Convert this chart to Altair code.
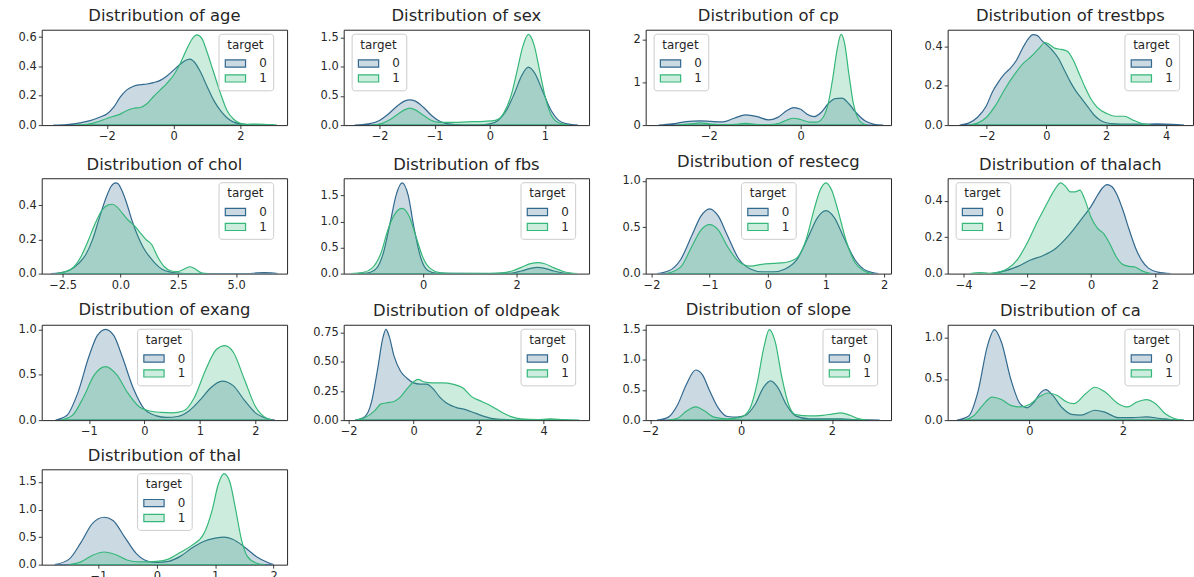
import altair as alt
import pandas as pd

# ---------------- data (standardised feature, KDE density) ----------------
AGE_X0 = [-3.6, -3.2, -2.8, -2.5, -2.2, -2.0, -1.8, -1.6, -1.4, -1.2, -1.0, -0.8, -0.6, -0.4, -0.2, 0.0, 0.2, 0.4, 0.5, 0.6, 0.8, 1.0, 1.2, 1.4, 1.6, 1.8, 2.0, 2.3, 2.7, 3.0]
AGE_D0 = [0.0, 0.004, 0.015, 0.03, 0.055, 0.075, 0.12, 0.19, 0.24, 0.265, 0.275, 0.28, 0.29, 0.305, 0.335, 0.375, 0.415, 0.445, 0.45, 0.435, 0.365, 0.265, 0.17, 0.1, 0.05, 0.02, 0.008, 0.002, 0.001, 0.0]
AGE_X1 = [-3.0, -2.6, -2.3, -2.0, -1.8, -1.6, -1.4, -1.2, -1.0, -0.8, -0.6, -0.4, -0.2, 0.0, 0.2, 0.4, 0.55, 0.7, 0.85, 1.0, 1.2, 1.4, 1.6, 1.8, 2.0, 2.2, 2.5, 2.8, 3.1]
AGE_D1 = [0.0, 0.005, 0.02, 0.045, 0.06, 0.075, 0.1, 0.115, 0.12, 0.145, 0.195, 0.24, 0.285, 0.34, 0.42, 0.52, 0.585, 0.615, 0.59, 0.5, 0.36, 0.22, 0.1, 0.04, 0.012, 0.005, 0.007, 0.004, 0.0]

SEX_X0 = [-2.45, -2.2, -2.0, -1.85, -1.7, -1.55, -1.45, -1.35, -1.2, -1.05, -0.9, -0.75, -0.5, -0.2, 0.0, 0.15, 0.3, 0.45, 0.58, 0.7, 0.82, 0.95, 1.1, 1.25, 1.4, 1.6]
SEX_D0 = [0.0, 0.02, 0.08, 0.18, 0.31, 0.41, 0.43, 0.41, 0.3, 0.16, 0.06, 0.02, 0.005, 0.005, 0.02, 0.08, 0.25, 0.55, 0.85, 0.99, 0.88, 0.6, 0.27, 0.08, 0.02, 0.0]
SEX_X1 = [-2.15, -1.95, -1.8, -1.65, -1.55, -1.45, -1.35, -1.25, -1.1, -0.95, -0.7, -0.4, -0.1, 0.1, 0.25, 0.4, 0.5, 0.6, 0.7, 0.8, 0.9, 1.0, 1.1, 1.25, 1.45]
SEX_D1 = [0.0, 0.03, 0.1, 0.2, 0.26, 0.29, 0.26, 0.2, 0.1, 0.05, 0.045, 0.055, 0.065, 0.08, 0.2, 0.55, 0.95, 1.35, 1.55, 1.38, 0.95, 0.5, 0.2, 0.04, 0.0]

CP_X0 = [-3.1, -2.8, -2.5, -2.2, -1.95, -1.7, -1.45, -1.2, -0.95, -0.7, -0.5, -0.3, -0.15, 0.0, 0.15, 0.3, 0.45, 0.6, 0.75, 0.9, 1.05, 1.2, 1.4, 1.6, 1.8]
CP_D0 = [0.0, 0.03, 0.08, 0.1, 0.085, 0.075, 0.16, 0.24, 0.2, 0.12, 0.18, 0.34, 0.41, 0.37, 0.25, 0.2, 0.3, 0.5, 0.62, 0.63, 0.5, 0.3, 0.1, 0.02, 0.0]
CP_X1 = [-2.7, -2.4, -2.2, -2.0, -1.7, -1.4, -1.2, -1.0, -0.7, -0.45, -0.3, -0.15, 0.0, 0.2, 0.35, 0.5, 0.6, 0.7, 0.8, 0.88, 0.96, 1.05, 1.15, 1.3, 1.45]
CP_D1 = [0.0, 0.03, 0.05, 0.03, 0.01, 0.02, 0.04, 0.02, 0.01, 0.05, 0.12, 0.16, 0.13, 0.07, 0.07, 0.2, 0.5, 1.1, 1.8, 2.12, 1.9, 1.2, 0.5, 0.08, 0.0]

TRESTBPS_X0 = [-2.9, -2.6, -2.3, -2.0, -1.8, -1.6, -1.4, -1.2, -1.0, -0.8, -0.6, -0.45, -0.3, -0.15, 0.0, 0.2, 0.4, 0.6, 0.8, 1.0, 1.2, 1.4, 1.6, 1.8, 2.0, 2.3, 2.7, 3.2, 3.7, 4.2, 4.6]
TRESTBPS_D0 = [0.0, 0.01, 0.04, 0.1, 0.17, 0.22, 0.26, 0.29, 0.33, 0.39, 0.44, 0.46, 0.455, 0.43, 0.41, 0.38, 0.34, 0.28, 0.22, 0.17, 0.13, 0.09, 0.05, 0.025, 0.012, 0.006, 0.005, 0.005, 0.006, 0.004, 0.0]
TRESTBPS_X1 = [-2.6, -2.3, -2.0, -1.7, -1.4, -1.1, -0.8, -0.5, -0.25, -0.05, 0.1, 0.3, 0.5, 0.7, 0.9, 1.1, 1.3, 1.5, 1.7, 2.0, 2.3, 2.6, 2.9, 3.2, 3.5]
TRESTBPS_D1 = [0.0, 0.01, 0.04, 0.1, 0.18, 0.25, 0.31, 0.35, 0.39, 0.42, 0.41, 0.39, 0.385, 0.375, 0.33, 0.26, 0.19, 0.13, 0.09, 0.06, 0.045, 0.045, 0.025, 0.008, 0.0]

CHOL_X0 = [-3.0, -2.6, -2.2, -1.8, -1.5, -1.2, -0.9, -0.6, -0.4, -0.2, -0.1, 0.05, 0.25, 0.5, 0.75, 1.0, 1.25, 1.5, 1.8, 2.2, 2.6, 3.0, 5.5, 5.9, 6.2, 6.5, 6.8]
CHOL_D0 = [0.0, 0.005, 0.02, 0.06, 0.11, 0.2, 0.33, 0.45, 0.51, 0.53, 0.525, 0.49, 0.42, 0.31, 0.22, 0.15, 0.1, 0.06, 0.025, 0.008, 0.002, 0.0, 0.0, 0.004, 0.006, 0.004, 0.0]
CHOL_X1 = [-2.8, -2.4, -2.0, -1.7, -1.4, -1.1, -0.8, -0.55, -0.35, -0.15, 0.1, 0.35, 0.6, 0.85, 1.1, 1.35, 1.6, 1.9, 2.2, 2.5, 2.8, 3.0, 3.2, 3.5, 3.8]
CHOL_D1 = [0.0, 0.01, 0.04, 0.1, 0.19, 0.29, 0.37, 0.4, 0.405, 0.39, 0.35, 0.31, 0.28, 0.24, 0.2, 0.17, 0.1, 0.04, 0.015, 0.012, 0.03, 0.04, 0.03, 0.005, 0.0]

FBS_X0 = [-1.4, -1.2, -1.0, -0.85, -0.7, -0.58, -0.45, -0.32, -0.2, -0.05, 0.1, 0.3, 1.5, 1.9, 2.1, 2.3, 2.45, 2.6, 2.8, 3.0, 3.2]
FBS_D0 = [0.0, 0.01, 0.1, 0.4, 1.0, 1.5, 1.74, 1.5, 0.9, 0.3, 0.06, 0.005, 0.0, 0.01, 0.05, 0.1, 0.12, 0.1, 0.05, 0.01, 0.0]
FBS_X1 = [-1.55, -1.3, -1.1, -0.9, -0.75, -0.6, -0.45, -0.3, -0.15, 0.0, 0.15, 0.35, 0.6, 1.2, 1.6, 1.9, 2.1, 2.3, 2.45, 2.6, 2.8, 3.0, 3.3]
FBS_D1 = [0.0, 0.02, 0.1, 0.4, 0.85, 1.15, 1.25, 1.1, 0.7, 0.3, 0.1, 0.02, 0.005, 0.003, 0.01, 0.05, 0.12, 0.19, 0.21, 0.19, 0.11, 0.04, 0.0]

RESTECG_X0 = [-1.9, -1.7, -1.5, -1.3, -1.15, -1.0, -0.85, -0.7, -0.5, -0.3, -0.1, 0.1, 0.3, 0.5, 0.7, 0.85, 1.0, 1.15, 1.3, 1.5, 1.7, 1.9]
RESTECG_D0 = [0.0, 0.03, 0.15, 0.42, 0.62, 0.7, 0.62, 0.42, 0.16, 0.05, 0.02, 0.02, 0.05, 0.15, 0.4, 0.6, 0.68, 0.6, 0.4, 0.15, 0.03, 0.0]
RESTECG_X1 = [-1.75, -1.5, -1.3, -1.15, -1.0, -0.85, -0.7, -0.5, -0.3, -0.1, 0.1, 0.3, 0.5, 0.65, 0.8, 0.9, 1.0, 1.1, 1.2, 1.35, 1.5, 1.65, 1.8]
RESTECG_D1 = [0.0, 0.07, 0.3, 0.47, 0.53, 0.47, 0.3, 0.13, 0.08, 0.1, 0.11, 0.12, 0.17, 0.35, 0.7, 0.9, 0.98, 0.9, 0.7, 0.35, 0.12, 0.03, 0.0]

THALACH_X0 = [-3.1, -2.7, -2.3, -1.9, -1.5, -1.1, -0.7, -0.3, 0.0, 0.2, 0.35, 0.5, 0.65, 0.8, 1.0, 1.2, 1.4, 1.6, 1.8, 2.1, 2.5]
THALACH_D0 = [0.0, 0.015, 0.04, 0.075, 0.1, 0.14, 0.21, 0.3, 0.37, 0.43, 0.47, 0.49, 0.48, 0.44, 0.35, 0.24, 0.14, 0.07, 0.03, 0.008, 0.0]
THALACH_X1 = [-3.8, -3.5, -3.2, -2.9, -2.6, -2.3, -2.0, -1.7, -1.4, -1.15, -0.95, -0.8, -0.65, -0.5, -0.35, -0.2, 0.0, 0.2, 0.4, 0.6, 0.8, 1.0, 1.2, 1.4, 1.6, 1.9]
THALACH_D1 = [0.0, 0.006, 0.002, 0.008, 0.03, 0.08, 0.17, 0.28, 0.38, 0.46, 0.5, 0.48, 0.45, 0.45, 0.46, 0.41, 0.31, 0.25, 0.22, 0.16, 0.09, 0.05, 0.04, 0.035, 0.015, 0.0]

EXANG_X0 = [-1.6, -1.4, -1.2, -1.0, -0.85, -0.7, -0.55, -0.4, -0.2, 0.0, 0.2, 0.4, 0.6, 0.8, 1.0, 1.2, 1.4, 1.6, 1.8, 2.0, 2.2, 2.35]
EXANG_D0 = [0.0, 0.05, 0.3, 0.7, 0.93, 1.0, 0.93, 0.7, 0.35, 0.12, 0.05, 0.03, 0.04, 0.1, 0.22, 0.36, 0.43, 0.38, 0.22, 0.08, 0.02, 0.0]
EXANG_X1 = [-1.5, -1.3, -1.1, -0.9, -0.7, -0.5, -0.3, -0.1, 0.1, 0.3, 0.5, 0.7, 0.9, 1.1, 1.3, 1.45, 1.6, 1.8, 2.0, 2.2, 2.3]
EXANG_D1 = [0.0, 0.05, 0.25, 0.5, 0.59, 0.5, 0.3, 0.15, 0.1, 0.085, 0.08, 0.1, 0.25, 0.55, 0.78, 0.82, 0.75, 0.45, 0.15, 0.02, 0.0]

OLDPEAK_X0 = [-1.8, -1.5, -1.3, -1.1, -0.95, -0.85, -0.75, -0.6, -0.4, -0.2, 0.0, 0.2, 0.4, 0.6, 0.8, 1.0, 1.3, 1.6, 1.9, 2.2, 2.5, 3.0, 3.5]
OLDPEAK_D0 = [0.0, 0.03, 0.15, 0.45, 0.7, 0.78, 0.72, 0.55, 0.42, 0.36, 0.32, 0.31, 0.31, 0.27, 0.2, 0.15, 0.11, 0.09, 0.06, 0.03, 0.01, 0.003, 0.0]
OLDPEAK_X1 = [-1.8, -1.5, -1.2, -1.0, -0.8, -0.6, -0.4, -0.2, 0.0, 0.15, 0.3, 0.6, 0.9, 1.2, 1.5, 1.8, 2.1, 2.4, 2.7, 3.0, 3.3, 3.8, 4.2, 4.6, 5.1]
OLDPEAK_D1 = [0.0, 0.02, 0.08, 0.14, 0.15, 0.16, 0.2, 0.27, 0.33, 0.35, 0.33, 0.32, 0.32, 0.31, 0.28, 0.2, 0.16, 0.12, 0.07, 0.03, 0.01, 0.005, 0.01, 0.005, 0.0]

SLOPE_X0 = [-1.85, -1.6, -1.4, -1.2, -1.0, -0.85, -0.7, -0.5, -0.3, -0.1, 0.1, 0.3, 0.5, 0.65, 0.8, 1.0, 1.2, 1.5, 1.8, 2.0, 2.2, 2.5, 2.8, 3.05]
SLOPE_D0 = [0.0, 0.05, 0.25, 0.6, 0.83, 0.75, 0.5, 0.2, 0.06, 0.05, 0.08, 0.25, 0.55, 0.65, 0.55, 0.25, 0.07, 0.02, 0.02, 0.02, 0.02, 0.01, 0.003, 0.0]
SLOPE_X1 = [-1.6, -1.4, -1.2, -1.0, -0.8, -0.6, -0.3, 0.0, 0.2, 0.35, 0.5, 0.62, 0.75, 0.9, 1.05, 1.2, 1.5, 1.8, 2.0, 2.2, 2.4, 2.6, 2.8]
SLOPE_D1 = [0.0, 0.03, 0.15, 0.22, 0.15, 0.05, 0.02, 0.05, 0.2, 0.6, 1.2, 1.5, 1.3, 0.7, 0.25, 0.09, 0.07, 0.08, 0.1, 0.12, 0.08, 0.02, 0.0]

CA_X0 = [-1.55, -1.3, -1.1, -0.9, -0.75, -0.6, -0.4, -0.2, -0.05, 0.1, 0.25, 0.35, 0.5, 0.7, 0.9, 1.1, 1.4, 1.6, 1.9, 2.2, 2.5, 2.8, 3.1, 3.3]
CA_D0 = [0.0, 0.05, 0.35, 0.9, 1.1, 0.95, 0.5, 0.2, 0.15, 0.22, 0.34, 0.37, 0.3, 0.15, 0.07, 0.06, 0.12, 0.1, 0.03, 0.03, 0.04, 0.02, 0.003, 0.0]
CA_X1 = [-1.4, -1.2, -1.0, -0.8, -0.6, -0.4, -0.2, 0.0, 0.2, 0.4, 0.6, 0.8, 0.95, 1.2, 1.4, 1.6, 1.9, 2.1, 2.3, 2.5, 2.7, 2.9, 3.1, 3.3]
CA_D1 = [0.0, 0.05, 0.18, 0.28, 0.25, 0.18, 0.16, 0.19, 0.28, 0.33, 0.3, 0.22, 0.2, 0.32, 0.4, 0.35, 0.2, 0.16, 0.22, 0.25, 0.2, 0.08, 0.02, 0.0]

THAL_X0 = [-1.75, -1.5, -1.3, -1.1, -0.9, -0.75, -0.55, -0.35, -0.15, 0.0, 0.2, 0.4, 0.6, 0.8, 1.0, 1.15, 1.3, 1.5, 1.7, 1.9, 2.0]
THAL_D0 = [0.0, 0.1, 0.4, 0.75, 0.86, 0.8, 0.5, 0.2, 0.06, 0.04, 0.06, 0.15, 0.3, 0.42, 0.48, 0.5, 0.46, 0.32, 0.15, 0.04, 0.0]
THAL_X1 = [-1.5, -1.3, -1.1, -0.9, -0.7, -0.5, -0.3, 0.0, 0.2, 0.4, 0.6, 0.8, 0.95, 1.05, 1.15, 1.25, 1.35, 1.45, 1.55, 1.7, 1.85]
THAL_D1 = [0.0, 0.05, 0.17, 0.23, 0.18, 0.08, 0.05, 0.06, 0.1, 0.22, 0.35, 0.55, 1.0, 1.45, 1.65, 1.5, 1.0, 0.45, 0.15, 0.03, 0.0]

TARGETS = ["0", "1"]
FILL_COLORS = ["rgba(49,104,142,0.25)", "rgba(53,183,121,0.25)"]
LINE_COLORS = ["#31688e", "#35b779"]

# name, curves, x-domain, y-max, x ticks, y ticks, x format, y format, legend position
PANELS = [
    ("age", AGE_X0, AGE_D0, AGE_X1, AGE_D1, [-3.95, 3.4], 0.65, [-2, 0, 2], [0, 0.2, 0.4, 0.6], "d", ".1f", "right"),
    ("sex", SEX_X0, SEX_D0, SEX_X1, SEX_D1, [-2.65, 1.8], 1.63, [-2, -1, 0, 1], [0, 0.5, 1.0, 1.5], "d", ".1f", "left"),
    ("cp", CP_X0, CP_D0, CP_X1, CP_D1, [-3.38, 1.97], 2.23, [-2, 0], [0, 1, 2], "d", "d", "left"),
    ("trestbps", TRESTBPS_X0, TRESTBPS_D0, TRESTBPS_X1, TRESTBPS_D1, [-3.3, 4.9], 0.485, [-2, 0, 2, 4], [0, 0.2, 0.4], "d", ".1f", "right"),
    ("chol", CHOL_X0, CHOL_D0, CHOL_X1, CHOL_D1, [-3.4, 7.2], 0.557, [-2.5, 0, 2.5, 5.0], [0, 0.2, 0.4], ".1f", ".1f", "right"),
    ("fbs", FBS_X0, FBS_D0, FBS_X1, FBS_D1, [-1.7, 3.55], 1.83, [0, 2], [0, 0.5, 1.0, 1.5], "d", ".1f", "right"),
    ("restecg", RESTECG_X0, RESTECG_D0, RESTECG_X1, RESTECG_D1, [-2.1, 2.12], 1.03, [-2, -1, 0, 1, 2], [0, 0.5, 1.0], "d", ".1f", "center"),
    ("thalach", THALACH_X0, THALACH_D0, THALACH_X1, THALACH_D1, [-4.5, 3.2], 0.525, [-4, -2, 0, 2], [0, 0.2, 0.4], "d", ".1f", "left"),
    ("exang", EXANG_X0, EXANG_D0, EXANG_X1, EXANG_D1, [-1.85, 2.57], 1.05, [-1, 0, 1, 2], [0, 0.5, 1.0], "d", ".1f", "center"),
    ("oldpeak", OLDPEAK_X0, OLDPEAK_D0, OLDPEAK_X1, OLDPEAK_D1, [-2.15, 5.4], 0.82, [-2, 0, 2, 4], [0, 0.25, 0.5, 0.75], "d", ".2f", "right"),
    ("slope", SLOPE_X0, SLOPE_D0, SLOPE_X1, SLOPE_D1, [-2.1, 3.3], 1.58, [-2, 0, 2], [0, 0.5, 1.0, 1.5], "d", ".1f", "right"),
    ("ca", CA_X0, CA_D0, CA_X1, CA_D1, [-1.75, 3.5], 1.16, [0, 2], [0, 0.5, 1.0], "d", ".1f", "right"),
    ("thal", THAL_X0, THAL_D0, THAL_X1, THAL_D1, [-1.97, 2.23], 1.73, [-1, 0, 1, 2], [0, 0.5, 1.0, 1.5], "d", ".1f", "center"),
]

PANEL_W = 247
PANEL_H = 96
TEXT = "#262626"
LEGEND_W = 54
LEGEND_X = {"left": 8, "center": (PANEL_W - LEGEND_W) // 2, "right": PANEL_W - LEGEND_W - 15}


def make_legend(pos):
    return alt.Legend(
        title="target",
        orient="none",
        legendX=LEGEND_X[pos],
        legendY=4,
        symbolType="M-1.7,-0.6L1.7,-0.6L1.7,0.6L-1.7,0.6Z",
        symbolSize=144,
        symbolOffset=4,
        symbolStrokeWidth=1.2,
        fillColor="rgba(255,255,255,0.8)",
        strokeColor="#cccccc",
        cornerRadius=3,
        padding=6,
        titleAnchor="middle",
        titleFontSize=12,
        titleFontWeight="normal",
        titleColor=TEXT,
        titlePadding=5,
        labelFontSize=12,
        labelColor=TEXT,
        labelOffset=17,
        rowPadding=2,
    )


def panel(name, x0, d0, x1, d1, xdom, ymax, xticks, yticks, xfmt, yfmt, pos):
    df = pd.DataFrame({
        "x": list(x0) + list(x1),
        "density": list(d0) + list(d1),
        "target": [TARGETS[0]] * len(x0) + [TARGETS[1]] * len(x1),
    })
    leg = make_legend(pos)
    return (
        alt.Chart(df)
        .mark_area(interpolate="monotone", strokeWidth=1.2, clip=True)
        .encode(
            x=alt.X("x:Q", title=None,
                    scale=alt.Scale(domain=xdom, nice=False, zero=False),
                    axis=alt.Axis(values=xticks, format=xfmt)),
            y=alt.Y("density:Q", title=None, stack=None,
                    scale=alt.Scale(domain=[0, ymax], nice=False),
                    axis=alt.Axis(values=yticks, format=yfmt)),
            fill=alt.Fill("target:N", scale=alt.Scale(domain=TARGETS, range=FILL_COLORS), legend=leg),
            stroke=alt.Stroke("target:N", scale=alt.Scale(domain=TARGETS, range=LINE_COLORS), legend=leg),
            order=alt.Order("target:N"),
        )
        .properties(width=PANEL_W, height=PANEL_H,
                    title=alt.Title(f"Distribution of {name}"))
    )


charts = [panel(*p) for p in PANELS]

chart = (
    alt.concat(*charts, columns=4, spacing={"row": 9.5, "column": 20})
    .resolve_scale(fill="independent", stroke="independent")
    .resolve_legend(fill="independent", stroke="independent")
    .properties(padding={"left": 6, "top": 6, "right": 0, "bottom": -6}, background="white")
    .configure(font="DejaVu Sans")
    .configure_view(stroke=TEXT, strokeWidth=1)
    .configure_axis(grid=False, domain=False, ticks=True, tickSize=3.5, tickColor=TEXT,
                    tickWidth=0.9, labelFont="DejaVu Sans", labelFontSize=11.5,
                    labelColor=TEXT, labelPadding=2, labelFlush=False, labelOverlap=False)
    .configure_axisY(minExtent=35)
    .configure_title(font="DejaVu Sans", fontSize=16.5, fontWeight="normal", color=TEXT,
                     anchor="middle", offset=5)
)

chart.save("out.html", embed_options={"renderer": "svg", "actions": False})
